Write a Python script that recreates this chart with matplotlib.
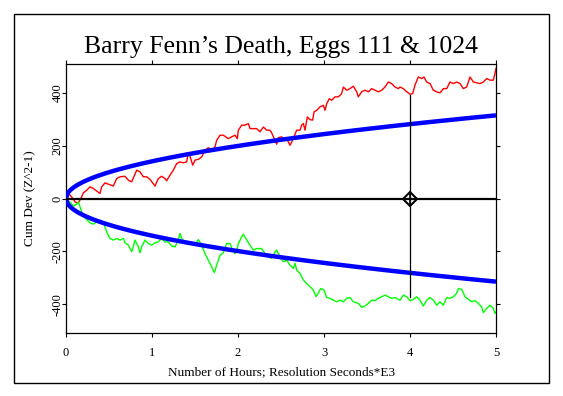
import matplotlib
matplotlib.use("Agg")
import matplotlib.pyplot as plt
from matplotlib.patches import Rectangle
import numpy as np

plt.rcParams['font.family'] = ['Liberation Serif', 'DejaVu Serif']

TITLE = "Barry Fenn\u2019s Death, Eggs 111 & 1024"
XLABEL = "Number of Hours; Resolution Seconds*E3"
YLABEL = "Cum Dev (Z^2-1)"
XTICKS = [0, 1, 2, 3, 4, 5]
YTICKS = [-400, -200, 0, 200, 400]

red_hours = [0.0, 0.027, 0.066, 0.105, 0.143, 0.182, 0.201, 0.240, 0.279, 0.318, 0.357, 0.395, 0.415,
             0.453, 0.492, 0.550, 0.589, 0.628, 0.686, 0.725, 0.764, 0.822, 0.860, 0.899, 0.938, 0.977,
             1.035, 1.073, 1.112, 1.151, 1.170, 1.209, 1.248, 1.287,
             1.326, 1.364, 1.403, 1.422, 1.442, 1.473, 1.500, 1.539, 1.578, 1.616, 1.655, 1.694, 1.733,
             1.752, 1.791, 1.829, 1.888, 1.926, 1.965, 1.992, 2.004, 2.043, 2.081, 2.120, 2.140, 2.178,
             2.217, 2.256, 2.295, 2.333, 2.372, 2.391, 2.430, 2.450, 2.469, 2.508, 2.547, 2.566, 2.605,
             2.643, 2.682,
             2.721, 2.740, 2.760, 2.779, 2.806, 2.837, 2.868, 2.884, 2.915, 2.953, 2.992, 3.012, 3.031,
             3.062, 3.089, 3.128, 3.167, 3.205, 3.225, 3.264, 3.302, 3.341, 3.380, 3.399, 3.438, 3.477,
             3.516, 3.554, 3.593, 3.632, 3.671, 3.709, 3.748, 3.787, 3.826, 3.864,
             3.884, 3.922, 3.961, 4.000, 4.031, 4.058, 4.097, 4.136, 4.163, 4.194, 4.233, 4.271, 4.310,
             4.349, 4.388, 4.427, 4.465, 4.504, 4.543, 4.582, 4.620, 4.659, 4.698, 4.737, 4.775, 4.814,
             4.853, 4.892, 4.930, 4.969, 4.988, 5.0]
red_values = [0, 19, 6, -13, -17, 6, 21, 31, 44, 38, 28, 19, 44,
              59, 54, 47, 75, 82, 84, 69, 63, 107, 101, 82, 82, 72,
              47, 75, 84, 75, 67, 88, 107, 132,
              138, 135, 138, 173, 160, 126, 145, 148, 157, 182, 192, 182, 195,
              220, 239, 239, 226, 233, 239, 226, 258, 277, 277, 283, 264, 264,
              264, 252, 270, 258, 258, 248, 220, 205, 230, 233, 220, 226, 201,
              226, 258,
              258, 277, 283, 258, 308, 298, 296, 327, 333, 346, 352, 333, 358,
              377, 371, 384, 384, 396, 421, 409, 415, 424, 403, 384, 403, 409,
              403, 415, 409, 403, 409, 421, 440, 434, 421, 415,
              421, 415, 403, 394, 396, 428, 459, 453, 459, 440, 434, 409, 403,
              399, 415, 415, 440, 434, 440, 434, 415, 421, 459, 440, 437, 434,
              440, 453, 447, 447, 472, 491]

green_hours = [0.0, 0.027, 0.047, 0.085, 0.124, 0.143, 0.163, 0.182, 0.201, 0.240, 0.279, 0.318, 0.357,
               0.395, 0.434, 0.453, 0.473, 0.512, 0.550, 0.589, 0.628, 0.667, 0.686, 0.725, 0.764, 0.783,
               0.802, 0.841, 0.860, 0.880, 0.919, 0.957, 0.996, 1.035, 1.073, 1.093, 1.112, 1.151, 1.190,
               1.229, 1.267, 1.306,
               1.326, 1.345, 1.384, 1.422, 1.461, 1.500, 1.539, 1.578, 1.616, 1.655, 1.694, 1.725, 1.752,
               1.791, 1.829, 1.868, 1.907, 1.938, 1.965, 1.984, 2.004, 2.043, 2.062, 2.101, 2.140, 2.178,
               2.217, 2.275, 2.314, 2.353, 2.391, 2.430, 2.450, 2.488, 2.527, 2.566, 2.605, 2.643, 2.663,
               2.682,
               2.721, 2.760, 2.798, 2.837, 2.876, 2.907, 2.934, 2.961, 3.000, 3.031, 3.070, 3.109, 3.147,
               3.186, 3.225, 3.264, 3.302, 3.341, 3.399, 3.438, 3.477, 3.516, 3.554, 3.593, 3.632, 3.671,
               3.709, 3.748, 3.787, 3.826, 3.864,
               3.884, 3.922, 3.961, 4.000, 4.039, 4.078, 4.116, 4.155, 4.194, 4.233, 4.271, 4.310, 4.349,
               4.388, 4.427, 4.465, 4.504, 4.543, 4.562, 4.601, 4.640, 4.678, 4.717, 4.756, 4.795, 4.833,
               4.853, 4.892, 4.930, 4.969, 4.988, 5.0]
green_values = [0, -19, -13, -29, -21, -13, -31, -50, -67, -79, -92, -97, -88,
                -92, -88, -107, -126, -151, -157, -151, -157, -151, -167, -176, -201, -182,
                -157, -182, -205, -182, -157, -170, -176, -167, -164, -157, -151, -164, -164,
                -180, -183, -157,
                -132, -151, -164, -170, -173, -176, -155, -176, -208, -233, -258, -280, -252,
                -214, -205, -170, -170, -197, -208, -201, -170, -145, -135, -157, -176, -195,
                -189, -189, -208, -220, -226, -201, -195, -220, -239, -233, -252, -264, -245,
                -270,
                -283, -308, -321, -333, -346, -371, -358, -340, -346, -374, -377, -384, -390,
                -384, -390, -377, -374, -390, -396, -411, -406, -396, -384, -386, -377, -371,
                -365, -371, -377, -374, -381,
                -384, -365, -371, -386, -381, -371, -384, -406, -384, -374, -384, -403, -390,
                -403, -374, -377, -371, -358, -340, -343, -371, -381, -390, -386, -396, -409,
                -431, -415, -403, -415, -434, -428]

ENVELOPE_AT_END = 314          # 2-sigma envelope height read at 5 hours
EVENT_HOUR = 4
EVENT_TOP = 392
EVENT_BOTTOM = -371

fig = plt.figure(figsize=(5.63, 3.96), dpi=100)
fig.patches.append(Rectangle((14 / 563, 1 - 383 / 396), (549 - 14) / 563, (383 - 14) / 396,
                             transform=fig.transFigure, fill=False, edgecolor='black', linewidth=1.0))
ax = fig.add_axes([66 / 563, 1 - 333 / 396, 430 / 563, 269 / 396])

env_x = np.linspace(0, 5, 300)
env_y = ENVELOPE_AT_END * np.sqrt(env_x / 5)
ax.plot(env_x, env_y, color='#0000ff', lw=3.2, solid_capstyle='butt', zorder=3)
ax.plot(env_x, -env_y, color='#0000ff', lw=3.2, solid_capstyle='butt', zorder=3)

ax.plot(red_hours, red_values, color='#ff0000', lw=1.0, zorder=2)
ax.plot(green_hours, green_values, color='#00ff00', lw=1.0, zorder=2)

ax.axhline(0, color='black', lw=1.6, zorder=4)
ax.plot([EVENT_HOUR, EVENT_HOUR], [EVENT_BOTTOM, EVENT_TOP], color='black', lw=0.9, zorder=4)
ax.plot([EVENT_HOUR], [0], marker='D', markersize=7, markerfacecolor='none',
        markeredgecolor='black', markeredgewidth=1.5, zorder=5)
ax.plot([EVENT_HOUR], [0], marker='+', markersize=7, color='black', markeredgewidth=1.2, zorder=5)

ax.set_xlim(0, 5)
ax.set_ylim(-508, 508)
ax.set_xticks(XTICKS)
ax.set_xticklabels([str(t) for t in XTICKS])
ax.set_yticks(YTICKS)
ax.set_yticklabels([str(t) for t in YTICKS], rotation=90, va='center')

for s in ax.spines.values():
    s.set_linewidth(0.9)
ax.tick_params(direction='out', length=3, width=0.8, top=True, right=True, labelsize=9)
ax.tick_params(axis='x', pad=7)
ax.tick_params(axis='y', pad=-1.5)

ax.set_title(TITLE, fontsize=18.5, pad=8)
ax.set_xlabel(XLABEL, fontsize=9.5, labelpad=5)
ax.set_ylabel(YLABEL, fontsize=9.5, labelpad=11)

fig.savefig("out.png", dpi=100)
